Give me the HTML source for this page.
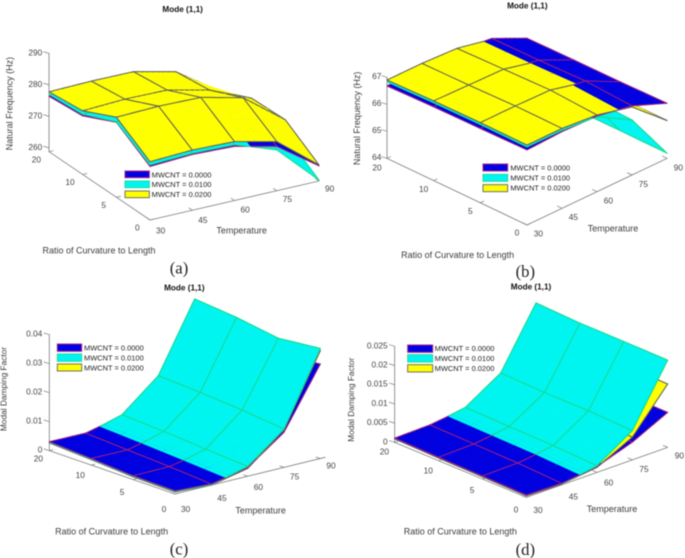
<!DOCTYPE html>
<html>
<head>
<meta charset="utf-8">
<title>Mode (1,1) surface charts</title>
<style>
html,body{margin:0;padding:0;background:#fff;width:685px;height:558px;overflow:hidden}
svg{display:block;filter:blur(0.5px)}
text{font-family:"Liberation Sans",sans-serif}
.title{font-size:24.6px;font-weight:bold;fill:#111;text-anchor:middle}
.axis-title{font-size:27px;fill:#3c3c3c;text-anchor:middle}
.legend-text{font-size:22.4px;fill:#222}
.caption{font-family:"Liberation Serif",serif;font-size:50px;fill:#222;text-anchor:middle}
.tick{font-size:25px;fill:#444}
</style>
</head>
<body>
<svg id="figure" width="685" height="558" viewBox="0 0 2055 1674" xmlns="http://www.w3.org/2000/svg">
<rect width="2055" height="1674" fill="#fff"/>

<g id="panel-a" transform="translate(0,0)">
  <g class="marks"></g>
  <text class="title" x="548" y="36">Mode (1,1)</text>
  <text class="axis-title" x="297" y="761">Ratio of Curvature to Length</text>
  <text class="axis-title" x="725" y="701">Temperature</text>
  <text class="axis-title" transform="translate(38,311) rotate(-90)">Natural Frequency (Hz)</text>
  <g>
    <rect x="375" y="513" width="73" height="20" fill="#0000e0" stroke="#b0208a" stroke-width="3"/>
    <rect x="375" y="543" width="73" height="20" fill="#00f5f0" stroke="#25d8a0" stroke-width="3"/>
    <rect x="375" y="573" width="73" height="20" fill="#ffff00" stroke="#707068" stroke-width="3"/>
    <text class="legend-text" x="455" y="532">MWCNT = 0.0000</text>
    <text class="legend-text" x="455" y="561">MWCNT = 0.0100</text>
    <text class="legend-text" x="455" y="591">MWCNT = 0.0200</text>
  </g>
  <text class="caption" x="537" y="821">(a)</text>
</g>

<g id="panel-b" transform="translate(1026,0)">
  <g class="marks"></g>
  <text class="title" x="556" y="26">Mode (1,1)</text>
  <text class="axis-title" x="347" y="774">Ratio of Curvature to Length</text>
  <text class="axis-title" x="813" y="695">Temperature</text>
  <text class="axis-title" transform="translate(54,355) rotate(-90)">Natural Frequency (Hz)</text>
  <g>
    <rect x="423" y="492" width="74" height="21" fill="#0000e0" stroke="#b0208a" stroke-width="3"/>
    <rect x="423" y="523" width="74" height="21" fill="#00f5f0" stroke="#25d8a0" stroke-width="3"/>
    <rect x="423" y="554" width="74" height="21" fill="#ffff00" stroke="#707068" stroke-width="3"/>
    <text class="legend-text" x="505" y="511">MWCNT = 0.0000</text>
    <text class="legend-text" x="505" y="541">MWCNT = 0.0100</text>
    <text class="legend-text" x="505" y="571">MWCNT = 0.0200</text>
  </g>
  <text class="caption" x="550" y="831">(b)</text>
</g>

<g id="panel-c" transform="translate(0,837)">
  <g class="marks"></g>
  <text class="title" x="553" y="34">Mode (1,1)</text>
  <text class="axis-title" x="335" y="766">Ratio of Curvature to Length</text>
  <text class="axis-title" x="782" y="704">Temperature</text>
  <text class="axis-title" style="font-size:25px" transform="translate(20,330) rotate(-90)">Modal Damping Factor</text>
  <g>
    <rect x="172" y="195" width="73" height="22" fill="#0000e0" stroke="#b0208a" stroke-width="3"/>
    <rect x="172" y="225" width="73" height="22" fill="#00f5f0" stroke="#25d8a0" stroke-width="3"/>
    <rect x="172" y="255" width="73" height="21" fill="#ffff00" stroke="#707068" stroke-width="3"/>
    <text class="legend-text" x="252" y="214">MWCNT = 0.0000</text>
    <text class="legend-text" x="252" y="244">MWCNT = 0.0100</text>
    <text class="legend-text" x="252" y="274">MWCNT = 0.0200</text>
  </g>
  <text class="caption" x="537" y="826">(c)</text>
</g>

<g id="panel-d" transform="translate(1026,837)">
  <g class="marks"></g>
  <text class="title" x="567" y="32">Mode (1,1)</text>
  <text class="axis-title" x="355" y="767">Ratio of Curvature to Length</text>
  <text class="axis-title" x="810" y="699">Temperature</text>
  <text class="axis-title" style="font-size:25px" transform="translate(36,362) rotate(-90)">Modal Damping Factor</text>
  <g>
    <rect x="197" y="198" width="75" height="22" fill="#0000e0" stroke="#b0208a" stroke-width="3"/>
    <rect x="197" y="227" width="75" height="22" fill="#00f5f0" stroke="#25d8a0" stroke-width="3"/>
    <rect x="197" y="257" width="75" height="22" fill="#ffff00" stroke="#707068" stroke-width="3"/>
    <text class="legend-text" x="278" y="216">MWCNT = 0.0000</text>
    <text class="legend-text" x="278" y="246">MWCNT = 0.0100</text>
    <text class="legend-text" x="278" y="276">MWCNT = 0.0200</text>
  </g>
  <text class="caption" x="550" y="828">(d)</text>
</g>
</svg>

<script>
// Categories
const curvatureLabels = ['20', '10', '5', '0'];
const temperatures = [30, 45, 60, 75, 90];

// Vertical axis tick labels
const zTicksA = ['260', '270', '280', '290'];
const zTicksB = ['64', '65', '66', '67'];
const zTicksC = ['0', '0.01', '0.02', '0.03', '0.04'];
const zTicksD = ['0', '0.005', '0.01', '0.015', '0.02', '0.025'];

// Series values: one row per curvature ratio (20, 10, 5, 0), one column per temperature
const freqA_mwcnt0000 = [
  [276.4, 276.7, 276.5, 273.5, 265.5],
  [277.4, 278.1, 277.8, 274.8, 270.2],
  [282.6, 283.1, 282.7, 279.6, 270.7],
  [275.8, 276.5, 276.0, 272.9, 263.6]
];
const freqA_mwcnt0100 = [
  [277.0, 277.1, 277.0, 272.3, 261.0],
  [277.9, 278.6, 278.4, 273.7, 265.8],
  [282.8, 283.6, 283.2, 278.5, 266.2],
  [276.3, 276.9, 276.5, 271.8, 259.1]
];
const freqA_mwcnt0200 = [
  [277.8, 278.1, 278.0, 274.9, 265.8],
  [279.0, 279.6, 279.4, 276.3, 270.6],
  [284.2, 284.6, 284.3, 281.1, 271.0],
  [277.3, 277.9, 277.5, 274.4, 263.9]
];

const freqB_mwcnt0000 = [
  [66.68, 66.78, 66.75, 66.59, 65.98],
  [66.73, 66.80, 66.80, 66.61, 66.00],
  [66.75, 66.85, 66.85, 66.66, 66.01],
  [66.78, 66.84, 66.80, 66.56, 66.04]
];
const freqB_mwcnt0100 = [
  [66.83, 66.83, 66.78, 65.92, 64.16],
  [66.88, 66.85, 66.83, 66.06, 64.20],
  [66.90, 66.90, 66.88, 66.11, 64.20],
  [66.89, 66.89, 66.78, 66.04, 64.19]
];
const freqB_mwcnt0200 = [
  [66.90, 66.90, 66.84, 66.56, 65.36],
  [66.95, 66.92, 66.89, 66.57, 65.40],
  [66.97, 66.97, 66.94, 66.62, 65.40],
  [66.96, 66.96, 66.84, 66.52, 65.40]
];

const dampC_mwcnt0000 = [
  [0.0031, 0.0030, 0.0059, 0.0156, 0.0346],
  [0.0023, 0.0022, 0.0051, 0.0148, 0.0332],
  [0.0013, 0.0014, 0.0040, 0.0137, 0.0310],
  [0.0011, 0.0004, 0.0030, 0.0121, 0.0326]
];
const dampC_mwcnt0100 = [
  [0.0029, 0.0027, 0.0063, 0.0167, 0.0401],
  [0.0021, 0.0019, 0.0055, 0.0159, 0.0387],
  [0.0011, 0.0011, 0.0044, 0.0148, 0.0365],
  [0.0009, 0.0001, 0.0034, 0.0132, 0.0380]
];
const dampC_mwcnt0200 = [
  [0.0027, 0.0026, 0.0055, 0.0164, 0.0391],
  [0.0019, 0.0018, 0.0047, 0.0156, 0.0377],
  [0.0009, 0.0010, 0.0036, 0.0145, 0.0355],
  [0.0007, 0.0000, 0.0027, 0.0130, 0.0372]
];

const dampD_mwcnt0000 = [
  [0.0011, 0.0013, 0.0024, 0.0050, 0.0095],
  [0.0009, 0.0011, 0.0022, 0.0048, 0.0093],
  [0.0008, 0.0009, 0.0020, 0.0047, 0.0092],
  [0.0006, 0.0004, 0.0015, 0.0046, 0.0091]
];
const dampD_mwcnt0100 = [
  [0.0009, 0.0011, 0.0026, 0.0083, 0.0233],
  [0.0007, 0.0009, 0.0024, 0.0080, 0.0228],
  [0.0006, 0.0007, 0.0022, 0.0080, 0.0228],
  [0.0004, 0.0002, 0.0017, 0.0076, 0.0227]
];
const dampD_mwcnt0200 = [
  [0.0009, 0.0011, 0.0022, 0.0064, 0.0170],
  [0.0007, 0.0009, 0.0020, 0.0062, 0.0168],
  [0.0006, 0.0007, 0.0018, 0.0060, 0.0166],
  [0.0004, 0.0002, 0.0013, 0.0059, 0.0165]
];

const BLUE = {fill: '#0000e0', edge: '#a01f80', name: 'mwcnt-0000'};
const CYAN = {fill: '#00f5f0', edge: '#18d890', name: 'mwcnt-0100'};
const YELLOW = {fill: '#ffff00', edge: '#606058', name: 'mwcnt-0200'};

const panels = [
  {id: 'panel-a', x0: 147, y0: 455, rdx: 101, rdy: 68.33, tdx: 126.75, tdy: -29.25, zs: 9.45, zMin: 258.8, tLimit: 90,
   zTicks: zTicksA, zLabelX: 127, zLabelDy: -2, rOff: [-38, 23, 0], tOff: [32, 32, -2.5],
   series: [[BLUE, freqA_mwcnt0000], [CYAN, freqA_mwcnt0100], [YELLOW, freqA_mwcnt0200]]},
  {id: 'panel-b', x0: 135, y0: 475, rdx: 140, rdy: 66.67, tdx: 105, tdy: -50, zs: 81, zMin: 64, tLimit: 90,
   zTicks: zTicksB, zLabelX: 118, zLabelDy: -4, rOff: [-30, 27, -1.3], tOff: [34, 25, 0.5],
   series: [[BLUE, freqB_mwcnt0000], [CYAN, freqB_mwcnt0100], [YELLOW, freqB_mwcnt0200]]},
  {id: 'panel-c', x0: 148, y0: 515, rdx: 125.67, rdy: 43.33, tdx: 109, tdy: -26.6, zs: 8700, zMin: 0, tLimit: 92,
   zTicks: zTicksC, zLabelX: 127, zLabelDy: -3, rOff: [-33, 23, 7.3], tOff: [32, 45, -6],
   series: [[BLUE, dampC_mwcnt0000], [CYAN, dampC_mwcnt0100], [YELLOW, dampC_mwcnt0200]]},
  {id: 'panel-d', x0: 158, y0: 490, rdx: 131.67, rdy: 55, tdx: 106, tdy: -37.5, zs: 11520, zMin: 0, tLimit: 90,
   zTicks: zTicksD, zLabelX: 137, zLabelDy: -3, rOff: [-31, 27, 3.4], tOff: [35, 38, -3.3],
   series: [[BLUE, dampD_mwcnt0000], [CYAN, dampD_mwcnt0100], [YELLOW, dampD_mwcnt0200]]}
];

const SVG_NS = 'http://www.w3.org/2000/svg';
const SUB_R = 2;
const SUB_T = 8;
const AXIS_COLOR = '#808080';

function tempPos(t) { return (t - temperatures[0]) / 15; }
function axisX(cfg, r, t) { return cfg.x0 + r * cfg.rdx + tempPos(t) * cfg.tdx; }
function axisY(cfg, r, t, z) { return cfg.y0 + r * cfg.rdy + tempPos(t) * cfg.tdy - (z - cfg.zMin) * cfg.zs; }

function surfaceValue(rows, r, j) {
  const r0 = Math.min(Math.floor(r), rows.length - 2);
  const j0 = Math.min(Math.floor(j), rows[0].length - 2);
  const fr = r - r0;
  const fj = j - j0;
  const top = rows[r0][j0] * (1 - fj) + rows[r0][j0 + 1] * fj;
  const bottom = rows[r0 + 1][j0] * (1 - fj) + rows[r0 + 1][j0 + 1] * fj;
  return top * (1 - fr) + bottom * fr;
}
function tempAt(j) {
  const j0 = Math.min(Math.floor(j), temperatures.length - 2);
  return temperatures[j0] + (temperatures[j0 + 1] - temperatures[j0]) * (j - j0);
}
function surfacePoint(cfg, rows, r, j) {
  const t = tempAt(j);
  return [axisX(cfg, r, t), axisY(cfg, r, t, surfaceValue(rows, r, j))];
}
function makeLine(a, b, color, width) {
  const el = document.createElementNS(SVG_NS, 'line');
  el.setAttribute('x1', a[0].toFixed(1));
  el.setAttribute('y1', a[1].toFixed(1));
  el.setAttribute('x2', b[0].toFixed(1));
  el.setAttribute('y2', b[1].toFixed(1));
  el.setAttribute('stroke', color);
  el.setAttribute('stroke-width', width);
  el.setAttribute('stroke-linecap', 'round');
  return el;
}
function makeText(x, y, content, anchor) {
  const el = document.createElementNS(SVG_NS, 'text');
  el.setAttribute('class', 'tick');
  el.setAttribute('x', x.toFixed(1));
  el.setAttribute('y', y.toFixed(1));
  el.setAttribute('dy', '0.35em');
  el.setAttribute('text-anchor', anchor);
  el.textContent = content;
  return el;
}

function drawAxes(cfg, g) {
  const nR = curvatureLabels.length - 1;
  const tFirst = temperatures[0];
  const zTop = Number(cfg.zTicks[cfg.zTicks.length - 1]);
  const cornerLeft = [axisX(cfg, 0, tFirst), axisY(cfg, 0, tFirst, cfg.zMin)];
  const cornerFront = [axisX(cfg, nR, tFirst), axisY(cfg, nR, tFirst, cfg.zMin)];
  const cornerRight = [axisX(cfg, nR, cfg.tLimit), axisY(cfg, nR, cfg.tLimit, cfg.zMin)];

  const rAxis = makeLine(cornerLeft, cornerFront, AXIS_COLOR, 2.5);
  
  
  g.appendChild(rAxis);

  const tAxis = makeLine(cornerFront, cornerRight, AXIS_COLOR, 2.5);
  
  
  g.appendChild(tAxis);

  const zAxis = makeLine(cornerLeft, [cornerLeft[0], axisY(cfg, 0, tFirst, zTop)], AXIS_COLOR, 2.5);
  
  
  g.appendChild(zAxis);

  cfg.zTicks.forEach(function (label) {
    const z = Number(label);
    const p = [axisX(cfg, 0, tFirst), axisY(cfg, 0, tFirst, z)];
    const tick = makeLine(p, [p[0] - 16, p[1] - 5], AXIS_COLOR, 2.2);
    
    
    g.appendChild(tick);
    const text = makeText(cfg.zLabelX, p[1] + cfg.zLabelDy, label, 'end');
    
    
    g.appendChild(text);
  });

  curvatureLabels.forEach(function (label, i) {
    const p = [axisX(cfg, i, tFirst), axisY(cfg, i, tFirst, cfg.zMin)];
    const tick = makeLine(p, [p[0] + cfg.tdx * 0.1, p[1] + cfg.tdy * 0.1], AXIS_COLOR, 2.2);
    
    
    g.appendChild(tick);
    const text = makeText(p[0] + cfg.rOff[0], p[1] + cfg.rOff[1] + cfg.rOff[2] * i, label, 'middle');
    
    
    g.appendChild(text);
  });

  temperatures.forEach(function (t, j) {
    const p = [axisX(cfg, nR, t), axisY(cfg, nR, t, cfg.zMin)];
    const tick = makeLine(p, [p[0] - cfg.rdx * 0.1, p[1] - cfg.rdy * 0.1], AXIS_COLOR, 2.2);
    
    
    g.appendChild(tick);
    const text = makeText(p[0] + cfg.tOff[0], p[1] + cfg.tOff[1] + cfg.tOff[2] * j, String(t), 'middle');
    
    
    g.appendChild(text);
  });
}

function drawSurfaces(cfg, g) {
  const maxA = (curvatureLabels.length - 1) * SUB_R;
  const maxB = (temperatures.length - 1) * SUB_T;
  const patches = [];
  cfg.series.forEach(function (entry) {
    const style = entry[0];
    const rows = entry[1];
    for (let A = 0; A < maxA; A++) {
      for (let B = 0; B < maxB; B++) {
        const r0 = A / SUB_R, r1 = (A + 1) / SUB_R;
        const j0 = B / SUB_T, j1 = (B + 1) / SUB_T;
        const p00 = surfacePoint(cfg, rows, r0, j0);
        const p01 = surfacePoint(cfg, rows, r0, j1);
        const p11 = surfacePoint(cfg, rows, r1, j1);
        const p10 = surfacePoint(cfg, rows, r1, j0);
        const edges = [];
        if (A % SUB_R === 0) edges.push([p00, p01]);
        if (A + 1 === maxA) edges.push([p10, p11]);
        if ((B + 1) % SUB_T === 0) edges.push([p01, p11]);
        if (B === 0) edges.push([p00, p10]);
        const z = (surfaceValue(rows, r0, j0) + surfaceValue(rows, r0, j1) + surfaceValue(rows, r1, j1) + surfaceValue(rows, r1, j0)) / 4;
        patches.push({A: A, B: B, z: z, style: style, pts: [p00, p01, p11, p10], edges: edges});
      }
    }
  });
  patches.sort(function (a, b) { return (a.A - b.A) || (b.B - a.B) || (a.z - b.z); });
  patches.forEach(function (patch) {
    const poly = document.createElementNS(SVG_NS, 'polygon');
    poly.setAttribute('points', patch.pts.map(function (p) { return p[0].toFixed(1) + ',' + p[1].toFixed(1); }).join(' '));
    poly.setAttribute('fill', patch.style.fill);
    poly.setAttribute('stroke', patch.style.fill);
    poly.setAttribute('stroke-width', '1.2');
    
    
    g.appendChild(poly);
    patch.edges.forEach(function (edge) {
      const line = makeLine(edge[0], edge[1], patch.style.edge, 3.2);
      
      
      g.appendChild(line);
    });
  });
}

panels.forEach(function (cfg) {
  const g = document.querySelector('#' + cfg.id + ' .marks');
  drawAxes(cfg, g);
  drawSurfaces(cfg, g);
});
</script>
</body>
</html>
